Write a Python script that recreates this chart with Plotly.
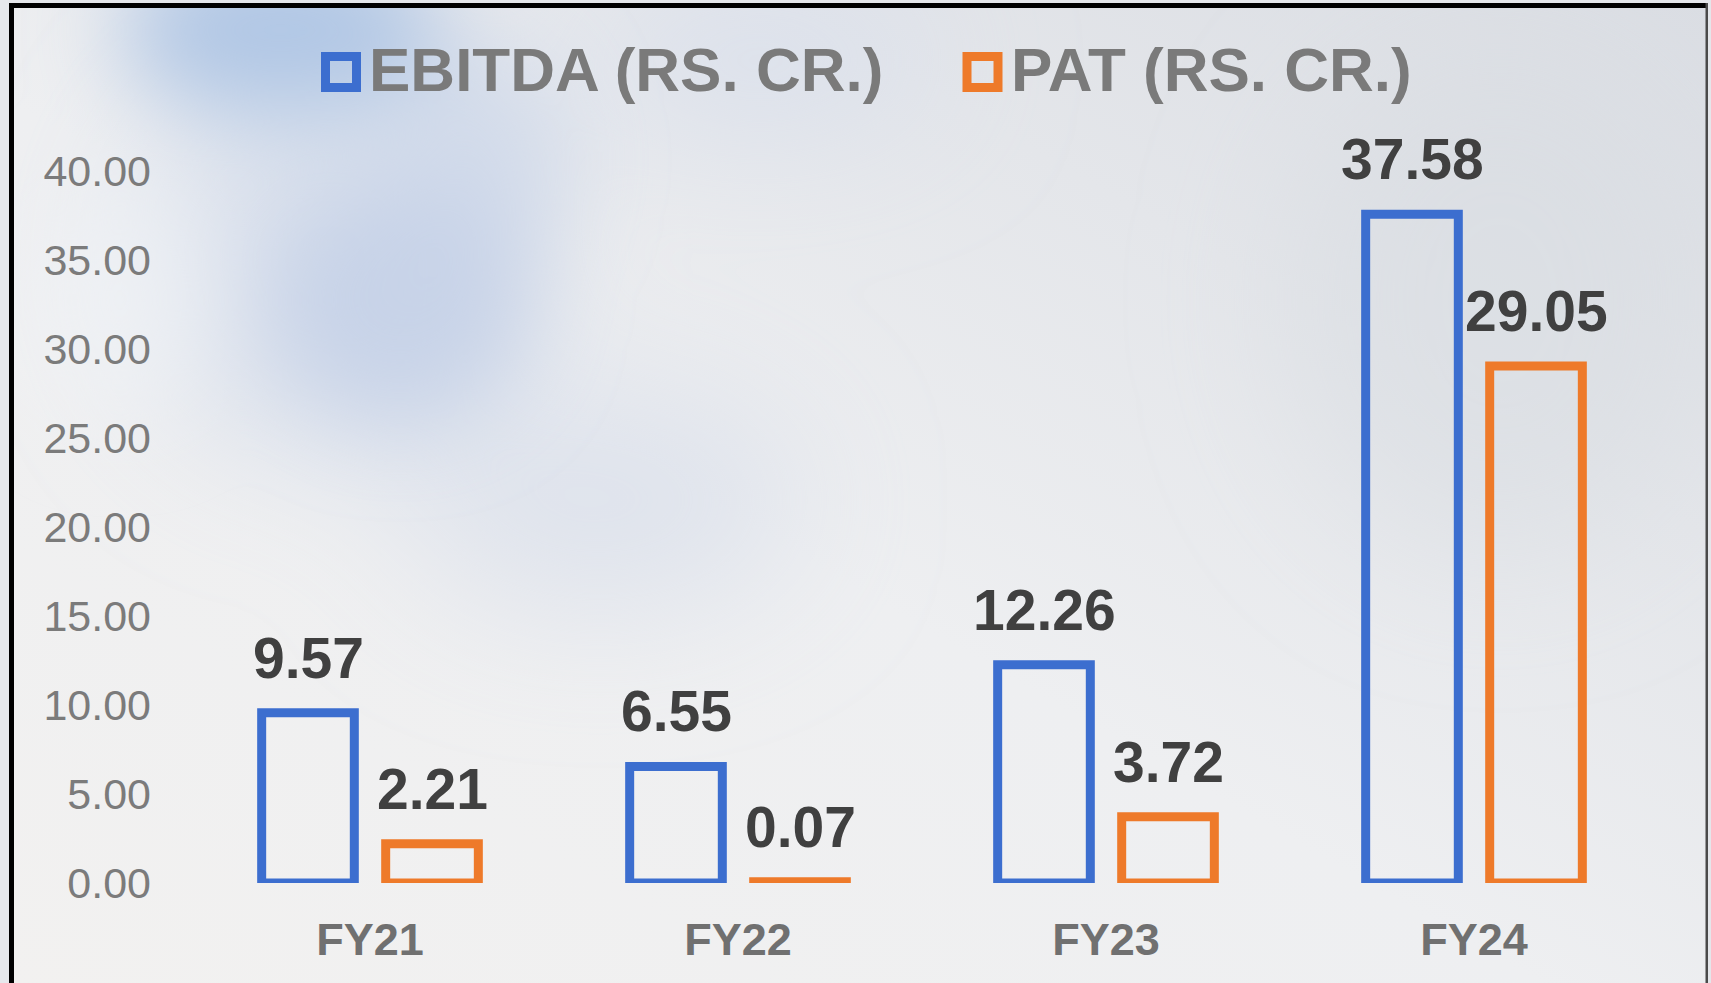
import base64
import plotly.graph_objects as go

# ---------------- data ----------------
categories = ["FY21", "FY22", "FY23", "FY24"]
ebitda = [9.57, 6.55, 12.26, 37.58]
pat = [2.21, 0.07, 3.72, 29.05]
series_names = ["EBITDA (RS. CR.)", "PAT (RS. CR.)"]
y_ticks = [0, 5, 10, 15, 20, 25, 30, 35, 40]
y_tick_labels = ["0.00", "5.00", "10.00", "15.00", "20.00", "25.00", "30.00", "35.00", "40.00"]

# ---------------- styling ----------------
W, H = 1711, 983
ML, MR, MT, MB = 186, 53, 100, 100
PW, PH = W - ML - MR, H - MT - MB
BLUE = "#3C6ECF"
ORANGE = "#EE7A2A"
FONT = "Liberation Sans, Arial, sans-serif"


def px_x(px):
    return (px - ML) / PW


def px_y(py):
    return (H - MB - py) / PH


svg = f'''<svg xmlns="http://www.w3.org/2000/svg" width="{W}" height="{H}" viewBox="0 0 {W} {H}" preserveAspectRatio="none">
<defs>
<linearGradient id="base" x1="0" y1="1" x2="1" y2="0">
<stop offset="0" stop-color="#f2f1f0"/>
<stop offset="0.45" stop-color="#eeeff1"/>
<stop offset="1" stop-color="#dadde3"/>
</linearGradient>
<filter id="blur" x="-50%" y="-50%" width="200%" height="200%"><feGaussianBlur stdDeviation="45"/></filter>
<filter id="blur2" x="-50%" y="-50%" width="200%" height="200%"><feGaussianBlur stdDeviation="70"/></filter>
</defs>
<rect width="{W}" height="{H}" fill="url(#base)"/>
<g filter="url(#blur2)">
<ellipse cx="600" cy="500" rx="200" ry="110" fill="#d4dbe9" opacity="0.6"/>
<ellipse cx="760" cy="60" rx="180" ry="70" fill="#d3dcec" opacity="0.6"/>
<ellipse cx="1500" cy="300" rx="220" ry="260" fill="#d8dbe2" opacity="0.5"/>
<ellipse cx="330" cy="260" rx="200" ry="200" fill="#cdd7e9" opacity="0.6"/>
</g>
<g filter="url(#blur)">
<ellipse cx="280" cy="30" rx="160" ry="85" fill="#aec5e5" opacity="0.95"/>
<ellipse cx="400" cy="300" rx="130" ry="120" fill="#c3d0e7" opacity="0.8"/>
<ellipse cx="480" cy="160" rx="90" ry="120" fill="#c9d5ea" opacity="0.6"/>
<ellipse cx="120" cy="300" rx="90" ry="120" fill="#f2f3f6" opacity="0.6"/>
</g>
<rect x="0" y="0" width="{W}" height="3" fill="#e4e6ea"/>
<rect x="0" y="0" width="9" height="{H}" fill="#e6e8ec"/>
<rect x="1708" y="0" width="3" height="{H}" fill="#e4e6ea"/>
<rect x="9" y="3" width="5" height="{H}" fill="#000"/>
<rect x="9" y="3" width="1699" height="5" fill="#000"/>
<rect x="1705.5" y="3" width="2.5" height="{H}" fill="#4a4a4a"/>
</svg>'''
bg_uri = "data:image/svg+xml;base64," + base64.b64encode(svg.encode()).decode()

fig = go.Figure()
colors = [BLUE, ORANGE]
for name, vals, col in zip(series_names, [ebitda, pat], colors):
    fig.add_trace(go.Bar(
        x=categories, y=vals, name=name,
        marker=dict(color="rgba(0,0,0,0)", line=dict(color=col, width=9)),
        showlegend=False, hoverinfo="x+y",
    ))

# data labels anchored at data values
annotations = []
for vals, shift in [(ebitda, -62), (pat, 62)]:
    for c, v in zip(categories, vals):
        annotations.append(dict(
            x=c, y=v, xref="x", yref="y", text=f"{v:.2f}", showarrow=False,
            xshift=shift, yshift=55, yanchor="middle", xanchor="center",
            font=dict(family=FONT, size=57, color="#404040", weight="bold"),
        ))

# custom legend
legend_items = [(series_names[0], BLUE, 325.5, 356.5, 367),
                (series_names[1], ORANGE, 967.0, 998.0, 1009)]
shapes = []
for name, col, x0, x1, tx in legend_items:
    shapes.append(dict(type="rect", xref="paper", yref="paper",
                       x0=px_x(x0), x1=px_x(x1), y0=px_y(87.5), y1=px_y(56.5),
                       line=dict(color=col, width=9), fillcolor="rgba(0,0,0,0)"))
    annotations.append(dict(
        x=px_x(tx), y=px_y(70), xref="paper", yref="paper", text=name,
        showarrow=False, xanchor="left", yanchor="middle",
        font=dict(family=FONT, size=62, color="#7a7a7a", weight="bold"),
    ))

fig.update_layout(
    width=W, height=H,
    margin=dict(l=ML, r=MR, t=MT, b=MB, pad=0),
    paper_bgcolor="#eceef1", plot_bgcolor="rgba(0,0,0,0)",
    barmode="group", bargap=0.326, bargroupgap=0.253,
    showlegend=False,
    annotations=annotations, shapes=shapes,
    images=[dict(source=bg_uri, xref="paper", yref="paper",
                 x=-ML / PW, y=(H - MB) / PH, sizex=W / PW, sizey=H / PH,
                 xanchor="left", yanchor="top", sizing="stretch", layer="below")],
    xaxis=dict(showgrid=False, zeroline=False, showline=False, ticks="",
               tickfont=dict(family=FONT, size=45, color="#707070", weight="bold"),
               ticklabelstandoff=26),
    yaxis=dict(range=[0, 44], showgrid=False, zeroline=False, showline=False, ticks="",
               tickvals=y_ticks, ticktext=y_tick_labels,
               tickfont=dict(family=FONT, size=43, color="#7b7b7b"),
               ticklabelstandoff=34),
)

fig.write_html(
    "out.html",
    config={"displayModeBar": False},
    post_script="document.body.style.margin='0';document.body.style.overflow='hidden';",
)
